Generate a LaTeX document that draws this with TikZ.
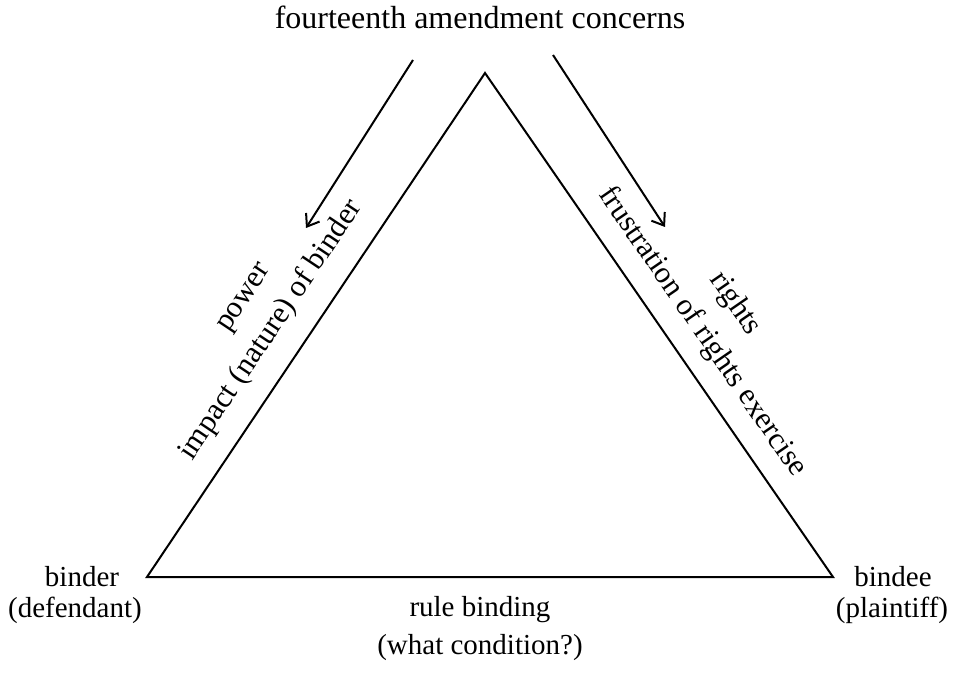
\documentclass[tikz,border=0pt]{standalone}
\usepackage{fontspec}
\setmainfont{Liberation Serif}
\usetikzlibrary{arrows.meta}
\begin{document}
\begin{tikzpicture}[x=1pt,y=-1pt,
  lbl/.style={inner sep=0pt,font=\fontsize{29}{34}\selectfont},
  rlbl/.style={inner sep=0pt,font=\fontsize{30.5}{36}\selectfont},
  edge/.style={line width=2pt,line join=miter},
  arr/.style={line width=2pt,-{Straight Barb[length=11pt,width=16pt,line width=2pt]}}]
\useasboundingbox (0,0) rectangle (961,692);
\coordinate (apex) at (485,73);
\coordinate (bl) at (147,577);
\coordinate (br) at (833,577);
\draw[edge] (apex) -- (bl) -- (br) -- cycle;
\node[inner sep=0pt,font=\fontsize{32}{38}\selectfont] (top) at (480,17) {fourteenth amendment concerns};
\coordinate (la) at (413,60);
\coordinate (lt) at (306,228);
\coordinate (ra) at (553,55);
\coordinate (rt) at (665,227);
\draw[arr] (la) -- (lt);
\draw[arr] (ra) -- (rt);
\node[rlbl,rotate=56.2] (impact) at (271,330) {impact (nature) of binder};
\node[rlbl,rotate=56.2] (power) at (246,299) {power};
\node[rlbl,rotate=-55.4] (frus) at (702,332) {frustration of rights exercise};
\node[rlbl,rotate=-55.4] (rights) at (735,304) {rights};
\node[lbl] (binder) at (82,577) {binder};
\node[lbl] (def) at (75,610) {(defendant)};
\node[lbl] (bindee) at (893,577) {bindee};
\node[lbl] (plain) at (892,610) {(plaintiff)};
\node[lbl] (rule) at (480,610) {rule binding};
\node[lbl] (what) at (480,648) {(what condition?)};
\end{tikzpicture}
\end{document}
